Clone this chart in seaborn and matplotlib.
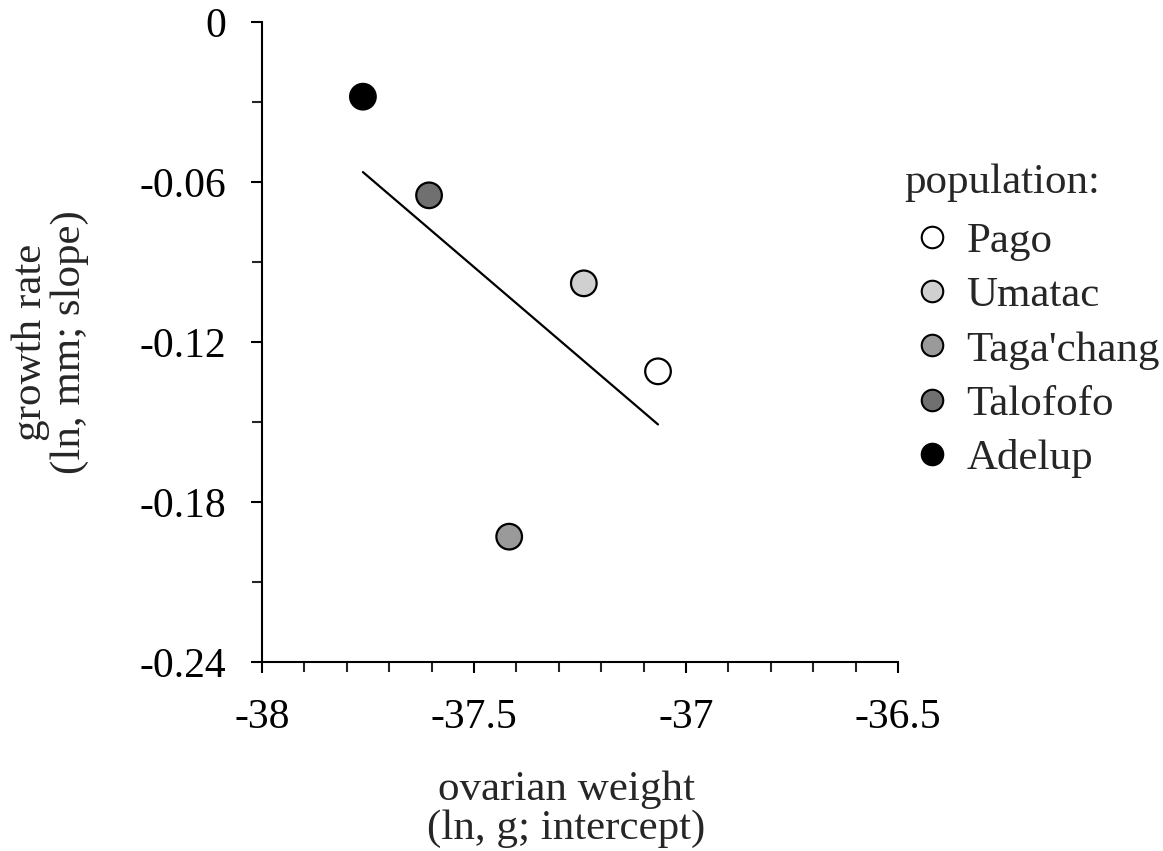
import numpy as np
import pandas as pd
import matplotlib
matplotlib.use("Agg")
import matplotlib.pyplot as plt
from matplotlib.ticker import MultipleLocator, FuncFormatter
import seaborn as sns

# values
populations = ["Pago", "Umatac", "Taga'chang", "Talofofo", "Adelup"]
ovarian_weight = [-37.066, -37.241, -37.417, -37.606, -37.762]
growth_rate = [-0.131, -0.098, -0.193, -0.065, -0.028]
grey_levels = ["#ffffff", "#d0d0d0", "#9a9a9a", "#707070", "#000000"]

df = pd.DataFrame({"population": populations,
                   "ovarian weight": ovarian_weight,
                   "growth rate": growth_rate})

sns.set_style("ticks")
plt.rcParams["font.family"] = ["Liberation Serif", "DejaVu Serif"]
plt.rcParams["axes.unicode_minus"] = False

fig = plt.figure(figsize=(11.63, 8.51), dpi=100)
ax = fig.add_axes([262 / 1163, 1 - 662 / 851, (898 - 262) / 1163, (662 - 22) / 851])

sns.regplot(data=df, x="ovarian weight", y="growth rate", scatter=False, ci=None,
            truncate=True, color="black", line_kws={"linewidth": 1.6}, ax=ax)
sns.scatterplot(data=df, x="ovarian weight", y="growth rate", hue="population",
                hue_order=populations, palette=dict(zip(populations, grey_levels)),
                s=340, edgecolor="black", linewidth=1.6, zorder=3, ax=ax)

ax.set_xlim(-38, -36.5)
ax.set_ylim(-0.24, 0)
ax.xaxis.set_major_locator(MultipleLocator(0.5))
ax.xaxis.set_minor_locator(MultipleLocator(0.1))
ax.yaxis.set_major_locator(MultipleLocator(0.06))
ax.yaxis.set_minor_locator(MultipleLocator(0.03))
fmt = FuncFormatter(lambda v, p: f"{round(v, 4):g}")
ax.xaxis.set_major_formatter(fmt)
ax.yaxis.set_major_formatter(fmt)

ax.tick_params(axis="both", which="major", length=8, width=1.5, labelsize=30,
               colors="black", direction="out")
ax.tick_params(axis="both", which="minor", length=7, width=1.5, direction="out")
ax.tick_params(axis="x", which="major", pad=18)
ax.tick_params(axis="y", which="major", pad=18)

sns.despine(ax=ax)
for side in ["left", "bottom"]:
    ax.spines[side].set_linewidth(1.5)
    ax.spines[side].set_color("black")

ax.set_xlabel("ovarian weight\n(ln, g; intercept)", fontsize=31, linespacing=1.0)
ax.set_ylabel("growth rate\n(ln, mm; slope)", fontsize=31, linespacing=1.0)
ax.xaxis.set_label_coords(0.478, -0.17)
ax.yaxis.set_label_coords(-0.272, 0.5)

handles, labels = ax.get_legend_handles_labels()
if ax.get_legend() is not None:
    ax.get_legend().remove()
for h in handles:
    if hasattr(h, "set_markersize"):
        h.set_markersize(15.5)
        h.set_markeredgewidth(1.5)
    else:
        h.set_sizes([240])

fig.text(904 / 1163, 1 - 183 / 851, "population:", fontsize=31, ha="left", va="center")
fig.legend(handles, labels, loc="upper left", bbox_to_anchor=(906 / 1163, 1 - 222 / 851),
           frameon=False, fontsize=31, handletextpad=0.2, labelspacing=0.35,
           borderpad=0, borderaxespad=0, handlelength=1.2)

fig.savefig("out.png", dpi=100)
